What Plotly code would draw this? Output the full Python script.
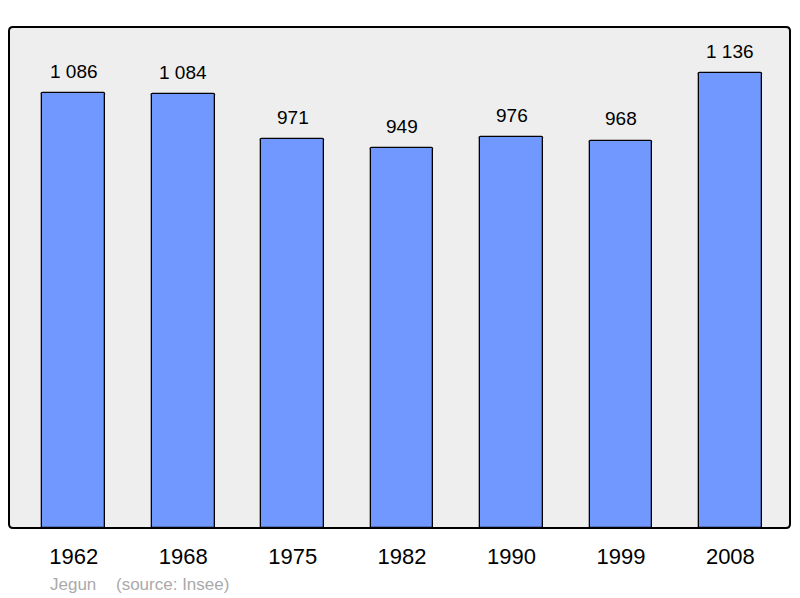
import plotly.graph_objects as go

years = ["1962", "1968", "1975", "1982", "1990", "1999", "2008"]
population = [1086, 1084, 971, 949, 976, 968, 1136]
labels = ["1 086", "1 084", "971", "949", "976", "968", "1 136"]

W, H = 800, 598
L, R, T, B = 9, 10, 27, 70
pw, ph = W - L - R, H - T - B

x = list(range(len(years)))
fig = go.Figure()
fig.add_trace(go.Bar(
    x=x, y=population, width=0.572,
    marker=dict(color="#7098ff", line=dict(color="#000000", width=1.3), cornerradius=2),
    hoverinfo="skip",
))

for xi, v, lab in zip(x, population, labels):
    fig.add_annotation(x=xi, y=v, text=lab, showarrow=False, yshift=22,
                       font=dict(family="Liberation Sans, Arial", size=19, color="#000"),
                       xref="x", yref="y")

# rounded plot frame
rx, ry = 4 / pw, 4 / ph
path = (f"M {rx},0 L {1-rx},0 Q 1,0 1,{ry} L 1,{1-ry} Q 1,1 {1-rx},1 "
        f"L {rx},1 Q 0,1 0,{1-ry} L 0,{ry} Q 0,0 {rx},0 Z")
fig.add_shape(type="path", path=path, xref="paper", yref="paper",
              line=dict(color="#000", width=2), fillcolor="#eeeeee", layer="below")

fig.add_annotation(x=(48 - L) / pw, y=-(584 - 528) / ph, xref="paper", yref="paper",
                   text="Jegun", showarrow=False, xanchor="left", yanchor="middle",
                   font=dict(family="Liberation Sans, Arial", size=17, color="#aaaaaa"))
fig.add_annotation(x=(114 - L) / pw, y=-(584 - 528) / ph, xref="paper", yref="paper",
                   text="(source: Insee)", showarrow=False, xanchor="left", yanchor="middle",
                   font=dict(family="Liberation Sans, Arial", size=17, color="#aaaaaa"))

fig.update_layout(
    width=W, height=H,
    margin=dict(l=L, r=R, t=T, b=B),
    paper_bgcolor="#ffffff", plot_bgcolor="rgba(0,0,0,0)",
    showlegend=False,
    xaxis=dict(range=[-0.592, 6.545], tickmode="array", tickvals=x, ticktext=years,
               showgrid=False, zeroline=False, showline=False, ticks="",
               ticklabelstandoff=13,
               tickfont=dict(family="Liberation Sans, Arial", size=22, color="#000")),
    yaxis=dict(range=[0, 1252], showgrid=False, zeroline=False, showline=False,
               showticklabels=False, ticks=""),
    bargap=0,
)

fig.write_html("out.html", config={"displayModeBar": False},
               post_script="document.body.style.margin='0';document.body.style.padding='0';")
